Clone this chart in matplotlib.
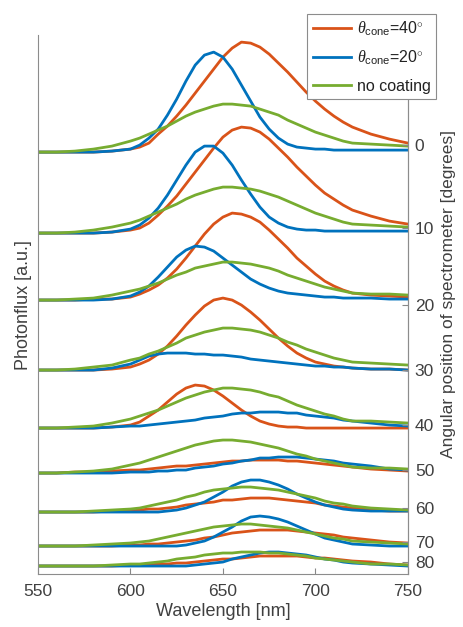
import numpy as np
import matplotlib
matplotlib.use("Agg")
import matplotlib.pyplot as plt

plt.rcParams['font.family'] = ['Liberation Sans', 'DejaVu Sans']
plt.rcParams['mathtext.fontset'] = 'custom'
plt.rcParams['mathtext.rm'] = 'Liberation Sans'
plt.rcParams['mathtext.it'] = 'Liberation Serif:italic'

# wavelength grid [nm]
wavelength = [550, 560, 570, 580, 590, 600, 605, 610, 615, 620, 625, 630, 635,
              640, 645, 650, 655, 660, 665, 670, 675, 680, 685, 690, 695, 700,
              705, 710, 715, 720, 730, 740, 750]

angles = [0, 10, 20, 30, 40, 50, 60, 70, 80]
# vertical offset of each spectrum (a.u.)
offsets = [422, 341, 274, 204, 146, 101, 62, 28, 8]
# where the angle labels sit on the right axis
angle_ticks = [429, 346, 269, 204, 149, 104, 66, 32, 12]

# photonflux above each offset, theta_cone = 40 deg
cone40 = [
    [0, 0, 0, 0, 1, 3, 5, 9, 18, 26, 36, 47, 59, 71, 83, 95, 104, 110, 109, 105, 98, 89, 80, 70, 60, 51, 43, 36, 30, 25, 18, 13, 9],
    [0, 0, 0, 0, 1, 3, 5, 10, 18, 27, 37, 49, 61, 73, 85, 96, 103, 106, 105, 101, 94, 85, 76, 66, 57, 48, 40, 34, 28, 23, 17, 12, 9],
    [0, 0, 0, 1, 1, 3, 6, 10, 15, 22, 31, 42, 54, 66, 76, 83, 87, 86, 83, 78, 70, 61, 52, 42, 34, 26, 19, 14, 10, 7, 5, 4, 3],
    [0, 0, 0, 0, 1, 3, 6, 10, 16, 24, 34, 45, 55, 64, 70, 72, 70, 65, 58, 50, 41, 32, 24, 17, 12, 8, 6, 4, 3, 2, 1, 1, 0],
    [0, 0, 0, 0, 1, 3, 6, 12, 18, 26, 34, 40, 43, 42, 38, 32, 25, 18, 12, 7, 4, 2, 1, 1, 0, 0, 0, 0, 0, 0, 0, 0, 0],
    [0, 0, 1, 1, 2, 3, 3, 4, 5, 6, 7, 7, 8, 9, 10, 11, 12, 12, 13, 13, 13, 13, 12, 12, 11, 10, 9, 8, 7, 6, 4, 3, 2],
    [0, 0, 0, 0, 1, 1, 2, 3, 3, 4, 5, 7, 8, 9, 10, 12, 12, 13, 14, 14, 14, 13, 12, 11, 10, 9, 7, 6, 5, 4, 2, 1, 1],
    [0, 0, 0, 0, 0, 1, 1, 2, 2, 3, 4, 5, 6, 8, 9, 11, 13, 14, 15, 16, 16, 16, 16, 15, 14, 13, 12, 11, 9, 8, 6, 4, 3],
    [0, 0, 0, 0, 0, 1, 1, 1, 2, 2, 3, 3, 4, 5, 6, 7, 7, 8, 9, 10, 10, 10, 10, 10, 9, 8, 8, 7, 6, 5, 4, 2, 1],
]

# theta_cone = 20 deg
cone20 = [
    [0, 0, 0, 0, 1, 3, 7, 14, 23, 37, 53, 71, 87, 97, 100, 95, 83, 67, 51, 35, 23, 14, 8, 5, 4, 3, 3, 2, 2, 2, 2, 2, 2],
    [0, 0, 0, 0, 1, 4, 8, 15, 25, 38, 53, 68, 81, 87, 87, 80, 68, 53, 39, 26, 16, 10, 6, 4, 3, 3, 2, 2, 2, 2, 2, 2, 2],
    [0, 0, 0, 0, 1, 4, 8, 14, 23, 33, 43, 50, 54, 53, 49, 42, 35, 28, 21, 16, 12, 9, 7, 6, 5, 4, 3, 3, 2, 2, 2, 1, 1],
    [0, 0, 0, 0, 2, 6, 10, 14, 16, 17, 17, 17, 16, 16, 15, 15, 14, 13, 11, 10, 9, 8, 7, 6, 5, 4, 4, 3, 3, 2, 1, 1, 0],
    [0, 0, 0, 0, 1, 2, 2, 3, 4, 5, 6, 7, 8, 10, 11, 12, 14, 15, 15, 16, 16, 16, 15, 15, 13, 12, 11, 10, 8, 7, 5, 3, 2],
    [0, 0, 0, 0, 0, 1, 1, 1, 2, 2, 3, 3, 5, 6, 7, 9, 10, 12, 13, 15, 15, 16, 16, 16, 15, 14, 13, 12, 10, 9, 7, 4, 3],
    [0, 0, 0, 0, 0, 0, 0, 0, 0, 1, 2, 4, 7, 10, 15, 20, 26, 30, 32, 32, 30, 27, 23, 18, 14, 10, 7, 5, 3, 2, 1, 1, 1],
    [0, 0, 0, 0, 0, 0, 0, 0, 0, 0, 0, 1, 3, 5, 9, 14, 19, 25, 29, 30, 29, 27, 24, 20, 16, 12, 8, 6, 4, 2, 1, 0, 0],
    [0, 0, 0, 0, 0, 0, 0, 0, 0, 0, 0, 0, 1, 2, 3, 4, 7, 9, 11, 13, 14, 14, 13, 12, 11, 9, 7, 6, 4, 3, 2, 1, 0],
]

# no coating
uncoated = [
    [0, 0, 1, 3, 6, 11, 14, 18, 22, 26, 31, 36, 40, 43, 46, 48, 48, 47, 46, 43, 40, 37, 32, 28, 24, 20, 17, 14, 11, 9, 8, 7, 6],
    [0, 0, 1, 3, 6, 10, 13, 17, 21, 25, 29, 34, 38, 41, 44, 46, 46, 45, 44, 42, 39, 36, 32, 28, 24, 20, 17, 14, 11, 9, 8, 7, 6],
    [0, 0, 1, 2, 5, 9, 11, 14, 17, 21, 25, 28, 32, 34, 36, 38, 38, 37, 36, 34, 32, 29, 25, 22, 19, 16, 13, 11, 9, 7, 6, 6, 5],
    [0, 0, 1, 3, 5, 10, 12, 16, 19, 23, 27, 32, 35, 38, 40, 42, 42, 41, 40, 38, 35, 32, 28, 25, 21, 18, 15, 12, 10, 8, 7, 6, 5],
    [0, 0, 1, 2, 5, 9, 12, 15, 18, 22, 26, 30, 33, 36, 38, 40, 40, 39, 38, 36, 33, 31, 27, 23, 20, 17, 14, 12, 9, 7, 7, 6, 5],
    [0, 0, 1, 2, 4, 8, 10, 13, 16, 19, 22, 25, 28, 30, 32, 33, 33, 32, 31, 29, 27, 25, 22, 19, 17, 14, 12, 10, 8, 6, 5, 5, 4],
    [0, 0, 0, 1, 2, 3, 4, 6, 8, 10, 12, 15, 17, 20, 22, 23, 24, 25, 25, 24, 23, 22, 20, 18, 16, 14, 11, 9, 8, 6, 4, 3, 2],
    [0, 0, 0, 1, 2, 3, 4, 5, 7, 9, 11, 13, 15, 17, 19, 20, 21, 22, 22, 21, 20, 19, 18, 16, 14, 12, 10, 8, 7, 5, 4, 3, 2],
    [0, 0, 0, 0, 1, 2, 2, 3, 4, 5, 7, 8, 9, 11, 12, 13, 13, 14, 14, 14, 13, 13, 12, 11, 10, 8, 7, 6, 5, 4, 2, 2, 1],
]

c40 = '#D95319'
c20 = '#0072BD'
cnc = '#77AC30'
txt = '#404040'

fig = plt.figure(figsize=(4.63, 6.27), dpi=100)
ax = fig.add_axes([0.082, 0.0845, 0.799, 0.8595])

lines = {}
for series, col, lab in [(cone40, c40, r'$\theta_{\mathrm{cone}}$=40$^{\circ}$'),
                         (cone20, c20, r'$\theta_{\mathrm{cone}}$=20$^{\circ}$'),
                         (uncoated, cnc, 'no coating')]:
    for k, off in enumerate(offsets):
        y = np.array(series[k]) + off
        ln, = ax.plot(wavelength, y, color=col, lw=2.0)
    lines[lab] = ln

ax.set_xlim(550, 750)
ax.set_ylim(0, 539)
ax.set_xticks([550, 600, 650, 700, 750])
ax.set_yticks([])
ax.tick_params(axis='x', direction='in', length=4, colors='#888888',
               labelcolor=txt, labelsize=12.5, pad=7)
for s in ['left', 'bottom', 'right']:
    ax.spines[s].set_color('#8c8c8c')
    ax.spines[s].set_linewidth(0.8)
ax.spines['top'].set_visible(False)
ax.set_xlabel('Wavelength [nm]', fontsize=13, color=txt, labelpad=3)
ax.set_ylabel('Photonflux [a.u.]', fontsize=13, color=txt, labelpad=4)

ax2 = ax.twinx()
ax2.set_ylim(0, 539)
ax2.set_yticks(angle_ticks)
ax2.set_yticklabels([str(a) for a in angles])
ax2.tick_params(axis='y', direction='in', length=4, colors='#888888',
                labelcolor=txt, labelsize=12.5, pad=5)
for s in ['left', 'bottom', 'top']:
    ax2.spines[s].set_visible(False)
ax2.spines['right'].set_color('#8c8c8c')
ax2.spines['right'].set_linewidth(0.8)
ax2.set_ylabel('Angular position of spectrometer [degrees]', fontsize=12.5,
               color=txt)
ax2.yaxis.set_label_coords(1.09, 0.52)

leg = fig.legend(list(lines.values()), list(lines.keys()),
                 loc='upper right', bbox_to_anchor=(0.942, 0.978),
                 borderaxespad=0, fontsize=11.5, handlelength=2.4,
                 handletextpad=0.35, labelspacing=0.7, borderpad=0.35,
                 fancybox=False, framealpha=1, edgecolor='#8c8c8c')
for t in leg.get_texts():
    t.set_color('#222222')
leg.get_frame().set_linewidth(0.8)

fig.savefig('out.png', dpi=100)
